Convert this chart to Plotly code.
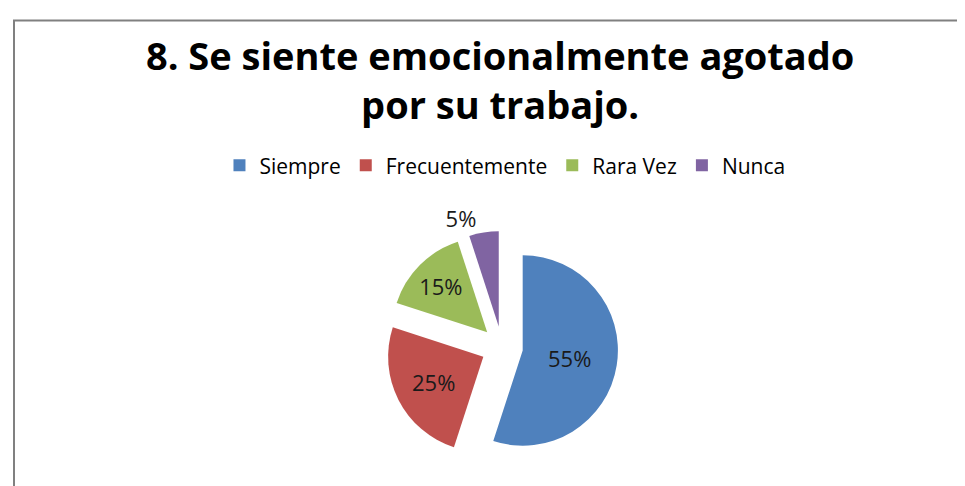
import plotly.graph_objects as go

title_lines = ["8. Se siente emocionalmente agotado", "por su trabajo."]
categories = ["Siempre", "Frecuentemente", "Rara Vez", "Nunca"]
values = [55, 25, 15, 5]
colors = ["#4F81BD", "#C0504D", "#9BBB59", "#8064A2"]

W, H = 965, 486

cx, cy, r, pull = 494, 342, 96, 0.22
half = r * (1 + pull)

fig = go.Figure()
fig.add_trace(go.Pie(
    labels=categories,
    values=values,
    marker=dict(colors=colors, line=dict(width=0)),
    sort=False,
    direction="clockwise",
    rotation=0,
    pull=[pull] * 4,
    textinfo="percent",
    texttemplate="%{percent:.0%}",
    textposition=["inside", "inside", "inside", "outside"],
    insidetextorientation="horizontal",
    textfont=dict(family="Open Sans", size=22, color="#1a1a1a"),
    hoverinfo="label+percent",
    domain=dict(x=[(cx - half) / W, (cx + half) / W],
                y=[(H - cy - half) / H, (H - cy + half) / H]),
))

fig.update_layout(
    width=W, height=H,
    margin=dict(l=0, r=0, t=0, b=0),
    paper_bgcolor="white",
    plot_bgcolor="white",
    title=dict(
        text="<br>".join(title_lines),
        font=dict(family="Open Sans", size=38, color="#000000", weight="bold"),
        x=0.51, xanchor="center",
        y=1 - 62 / H, yanchor="top",
    ),
    showlegend=True,
    legend=dict(
        orientation="h",
        x=0.515, xanchor="center",
        y=1 - 159 / H, yanchor="middle",
        font=dict(family="Open Sans", size=21, color="#000000"),
        bgcolor="rgba(0,0,0,0)",
    ),
    shapes=[
        dict(type="line", xref="paper", yref="paper",
             x0=5 / W, x1=1, y0=1 - 12.5 / H, y1=1 - 12.5 / H,
             line=dict(color="#808080", width=2)),
        dict(type="line", xref="paper", yref="paper",
             x0=6 / W, x1=6 / W, y0=0, y1=1 - 12 / H,
             line=dict(color="#808080", width=2)),
    ],
)

fig.write_html("out.html")
